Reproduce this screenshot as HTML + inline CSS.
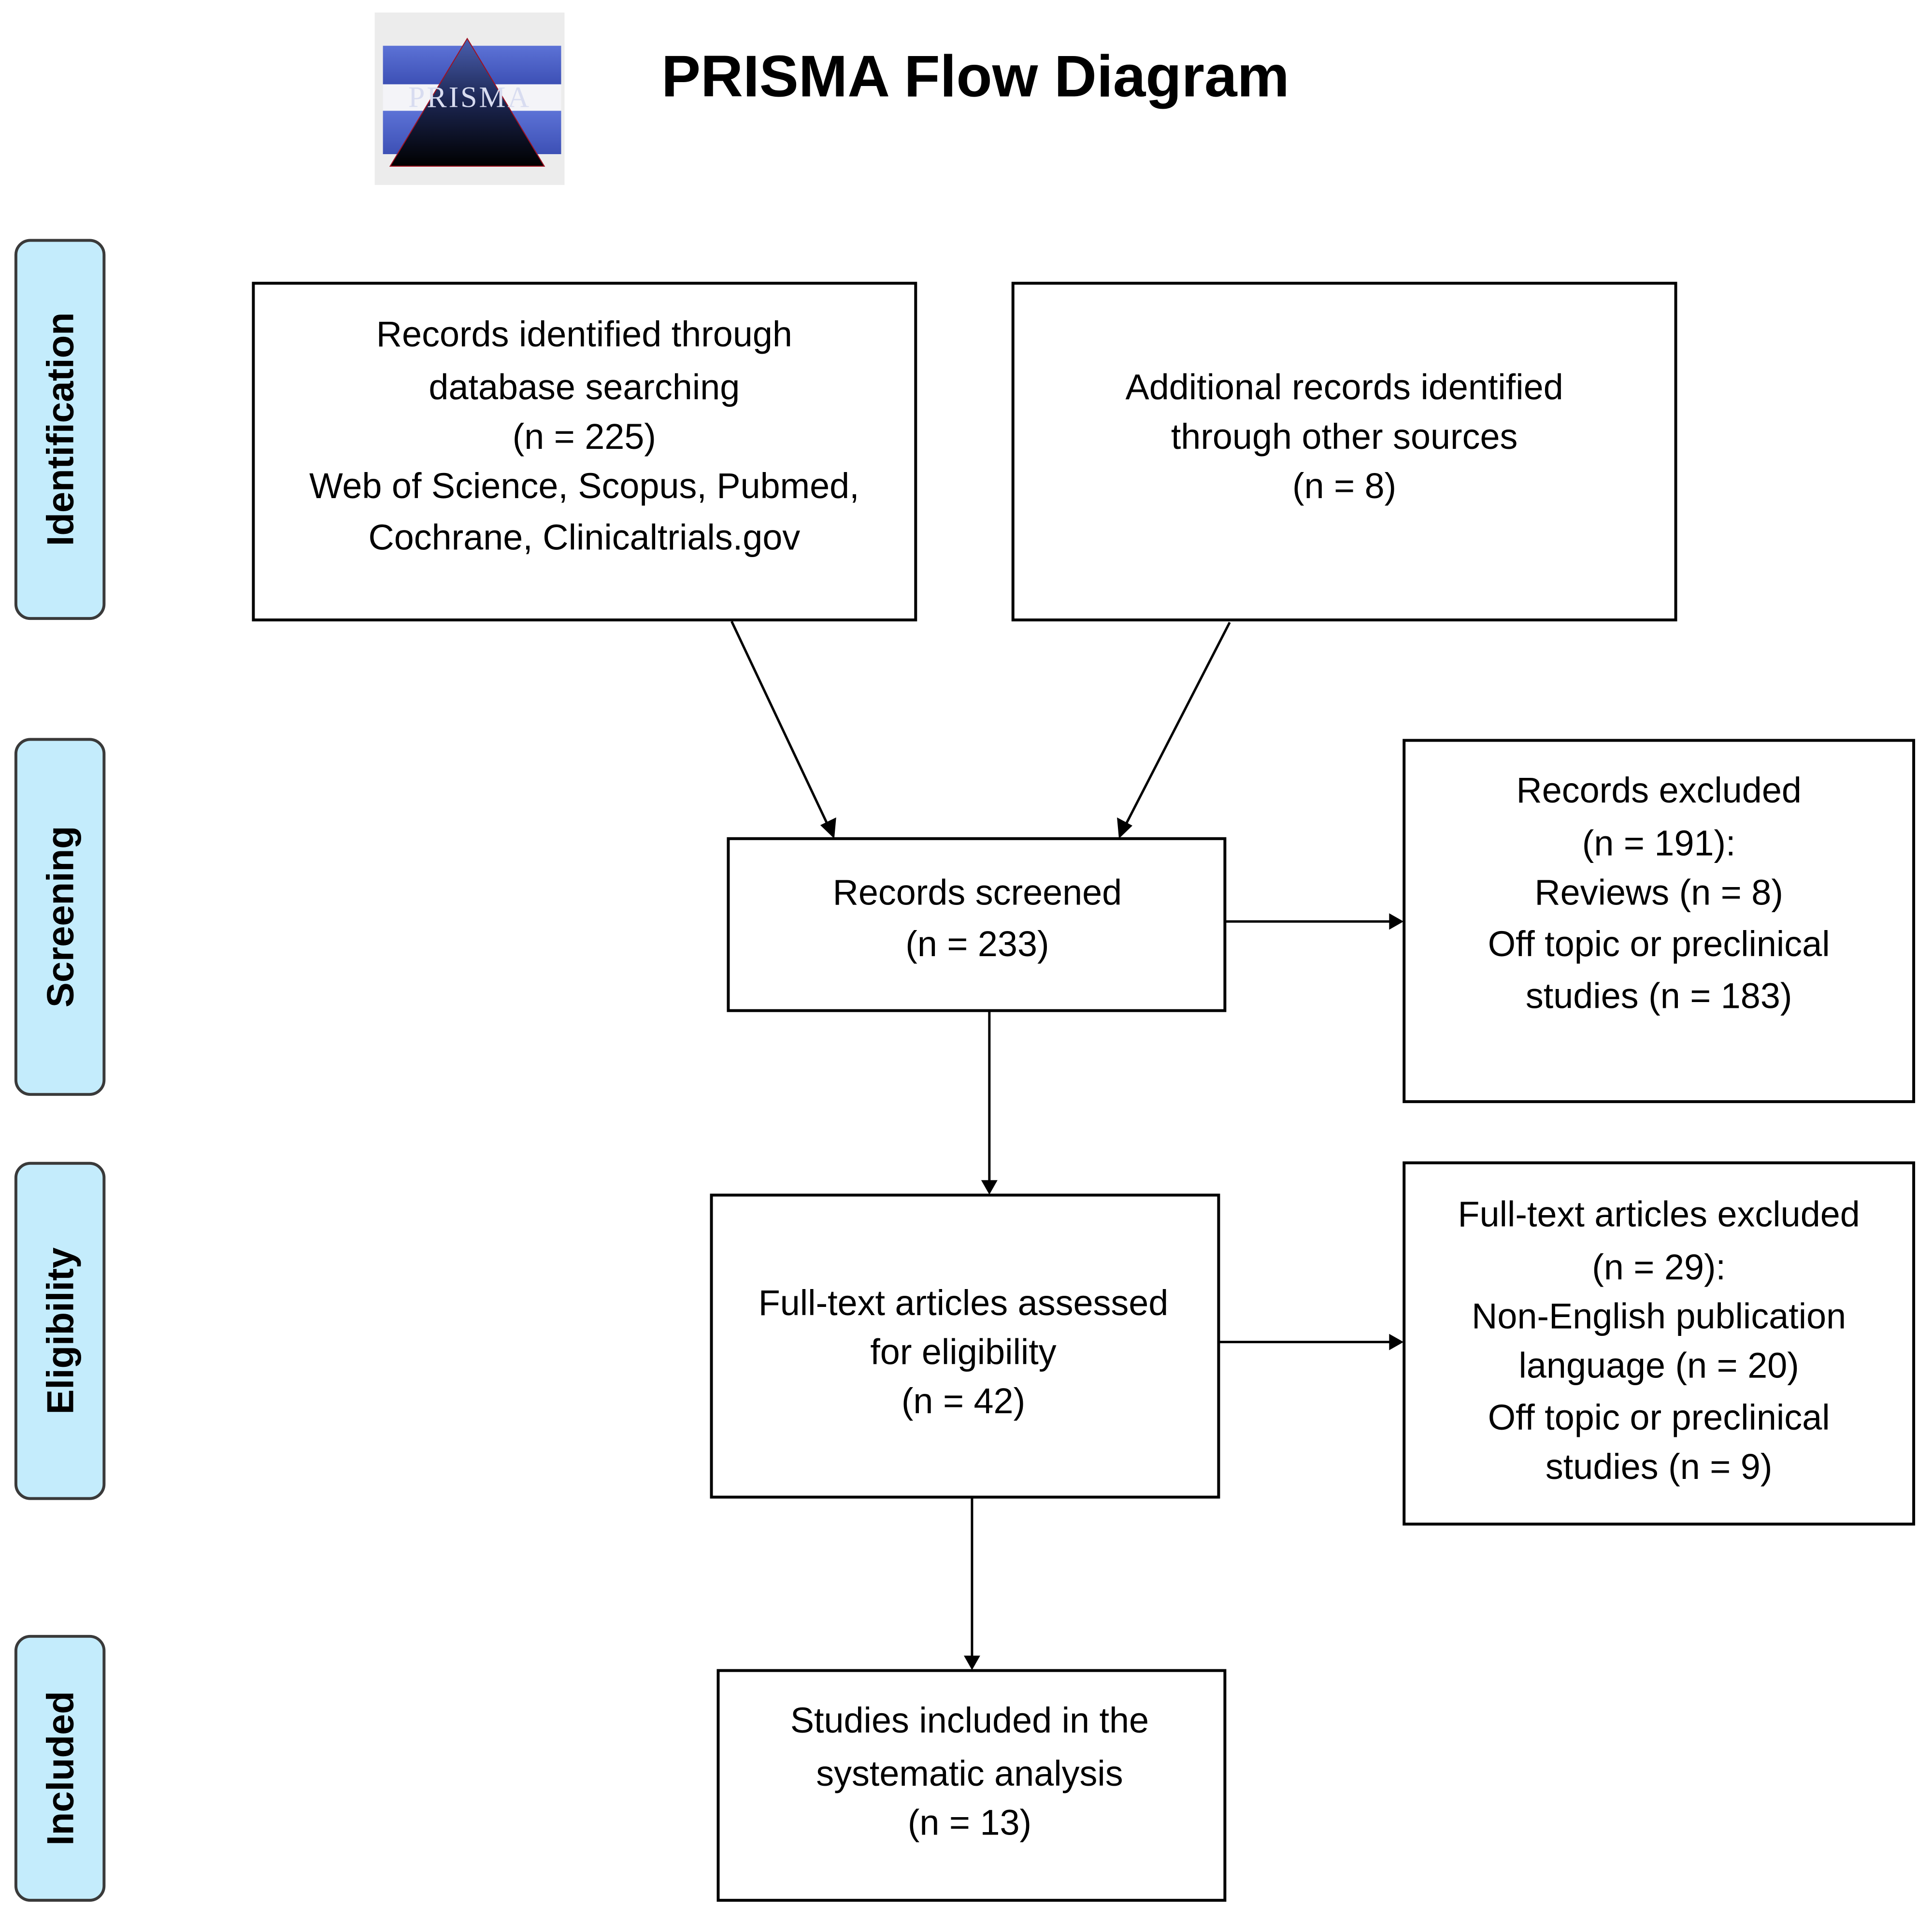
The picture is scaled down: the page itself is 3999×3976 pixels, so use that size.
<!DOCTYPE html>
<html><head><meta charset="utf-8">
<style>
html,body{margin:0;padding:0;background:#fff;}
body{width:3999px;height:3971px;overflow:hidden;}
svg text{font-family:"Liberation Sans",sans-serif;}
</style></head>
<body>
<svg width="3999" height="3971" viewBox="0 0 3999 3971" xmlns="http://www.w3.org/2000/svg">
<defs>
<linearGradient id="tri" x1="0" y1="0" x2="0" y2="1">
<stop offset="0" stop-color="#4a5fb0"/><stop offset="0.5" stop-color="#1b2550"/><stop offset="1" stop-color="#000"/>
</linearGradient>
<linearGradient id="band" x1="0" y1="0" x2="0" y2="1">
<stop offset="0" stop-color="#5c72d6"/><stop offset="1" stop-color="#3d50b5"/>
</linearGradient>
</defs>
<g transform="scale(0.997)">
<!-- Logo -->
<rect x="778" y="26" width="394" height="358" fill="#ececec"/>
<rect x="795" y="95" width="370" height="80" fill="url(#band)"/>
<rect x="795" y="175" width="370" height="55" fill="#f4f4f8"/>
<rect x="795" y="230" width="370" height="90" fill="url(#band)"/>
<polygon points="970,80 1130,345 810,345" fill="url(#tri)" stroke="#a01020" stroke-width="2"/>
<text x="975" y="222" text-anchor="middle" font-size="62" fill="#d8dcf0" style="font-family:'Liberation Serif',serif" letter-spacing="4">PRISMA</text>

<!-- Title -->
<text x="2025" y="200" text-anchor="middle" font-size="122" font-weight="bold" fill="#000">PRISMA Flow Diagram</text>

<!-- Side tabs -->
<g fill="#c4ecfc" stroke="#3a3a3a" stroke-width="6">
<rect x="33" y="499" width="183" height="785" rx="30"/>
<rect x="33" y="1535" width="183" height="737" rx="30"/>
<rect x="33" y="2415" width="183" height="696" rx="30"/>
<rect x="33" y="3397" width="183" height="548" rx="30"/>
</g>
<g font-size="78" font-weight="bold" fill="#000" text-anchor="middle">
<text transform="translate(152,891) rotate(-90)">Identification</text>
<text transform="translate(152,1903) rotate(-90)">Screening</text>
<text transform="translate(152,2763) rotate(-90)">Eligibility</text>
<text transform="translate(152,3671) rotate(-90)">Included</text>
</g>

<!-- Boxes -->
<g fill="#fff" stroke="#000" stroke-width="6">
<rect x="526" y="588" width="1375" height="699"/>
<rect x="2103" y="588" width="1376" height="699"/>
<rect x="1512" y="1741" width="1031" height="357"/>
<rect x="2915" y="1537" width="1058" height="750"/>
<rect x="1477" y="2481" width="1053" height="627"/>
<rect x="2915" y="2414" width="1058" height="750"/>
<rect x="1491" y="3468" width="1052" height="477"/>
</g>

<!-- Arrows -->
<g stroke="#000" stroke-width="5" fill="none">
<line x1="1519" y1="1290" x2="1722" y2="1720"/>
<line x1="2553" y1="1292" x2="2333" y2="1720"/>
<line x1="2543" y1="1913" x2="2890" y2="1913"/>
<line x1="2054" y1="2098" x2="2054" y2="2455"/>
<line x1="2530" y1="2786" x2="2890" y2="2786"/>
<line x1="2018" y1="3108" x2="2018" y2="3442"/>
</g>
<g fill="#000">
<polygon points="1732,1741 1703,1713 1736,1697"/>
<polygon points="2323,1741 2319,1697 2351,1714"/>
<polygon points="2914,1913 2884,1896 2884,1930"/>
<polygon points="2054,2480 2037,2450 2071,2450"/>
<polygon points="2914,2786 2884,2769 2884,2803"/>
<polygon points="2018,3467 2001,3437 2035,3437"/>
</g>

<!-- Box text -->
<g font-size="74" fill="#000" text-anchor="middle">
<text x="1213" y="719">Records identified through</text>
<text x="1213" y="829">database searching</text>
<text x="1213" y="932">(n = 225)</text>
<text x="1213" y="1034">Web of Science, Scopus, Pubmed,</text>
<text x="1213" y="1141">Cochrane, Clinicaltrials.gov</text>

<text x="2791" y="829">Additional records identified</text>
<text x="2791" y="932">through other sources</text>
<text x="2791" y="1034">(n = 8)</text>

<text x="2029" y="1878">Records screened</text>
<text x="2029" y="1985">(n = 233)</text>

<text x="3444" y="1666">Records excluded</text>
<text x="3444" y="1776">(n = 191):</text>
<text x="3444" y="1878">Reviews (n = 8)</text>
<text x="3444" y="1985">Off topic or preclinical</text>
<text x="3444" y="2093">studies (n = 183)</text>

<text x="2000" y="2730">Full-text articles assessed</text>
<text x="2000" y="2832">for eligibility</text>
<text x="2000" y="2934">(n = 42)</text>

<text x="3444" y="2546">Full-text articles excluded</text>
<text x="3444" y="2656">(n = 29):</text>
<text x="3444" y="2758">Non-English publication</text>
<text x="3444" y="2860">language (n = 20)</text>
<text x="3444" y="2968">Off topic or preclinical</text>
<text x="3444" y="3070">studies (n = 9)</text>

<text x="2013" y="3597">Studies included in the</text>
<text x="2013" y="3707">systematic analysis</text>
<text x="2013" y="3809">(n = 13)</text>
</g>
</g>
</svg>
</body></html>
